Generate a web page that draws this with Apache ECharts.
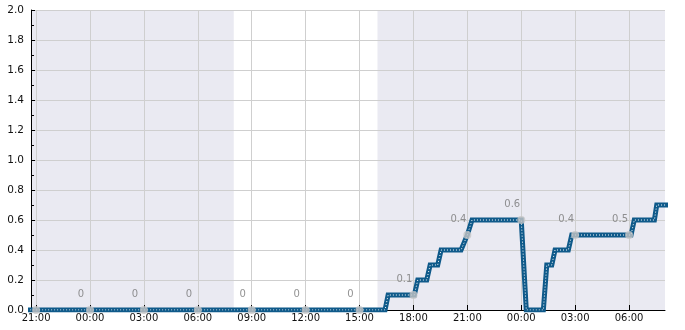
<!DOCTYPE html>
<html><head><meta charset="utf-8">
<script src="https://cdn.jsdelivr.net/npm/echarts@6/dist/echarts.min.js"></script>
<style>html,body{margin:0;padding:0;background:#fff}#c{width:685px;height:330px}</style>
</head><body><div id="c"></div>
<script>
// Hours counted from day-1 00:00
const lineHours  = [20.5, 40.42, 40.59, 42.05, 42.24, 42.74, 42.93, 43.35, 43.54, 44.65, 45.0, 45.26, 48.0, 48.28, 49.23, 49.42, 49.70, 49.88, 50.62, 50.81, 54.11, 54.29, 55.41, 55.54, 56.2];
const lineValues = [0,     0,     0.1,   0.1,   0.2,   0.2,   0.3,   0.3,   0.4,   0.4,   0.5,  0.6,   0.6,  0,     0,     0.3,   0.3,   0.4,   0.4,   0.5,   0.5,   0.6,   0.6,   0.7,   0.7];
const pointHours  = [21, 24, 27, 30, 33, 36, 39, 42, 45, 48, 51, 54];
const pointValues = [0, 0, 0, 0, 0, 0, 0, 0.1, 0.5, 0.6, 0.5, 0.5];
const pointLabels = ['', '0', '0', '0', '0', '0', '0', '0.1', '0.4', '0.6', '0.4', '0.5'];
const xTickHours = [21, 24, 27, 30, 33, 36, 39, 42, 45, 48, 51, 54];
const shadedRanges = [[20.7167, 32], [40, 56]];
const xMin = 20.7167, xMax = 56;

const lineData = lineHours.map((h, i) => [h, lineValues[i]]);
const pointData = pointHours.map((h, i) => [h, pointValues[i]]);
const fmtHour = h => String(Math.round(h) % 24).padStart(2, '0') + ':00';

const chart = echarts.init(document.getElementById('c'));
chart.setOption({
  animation: false,
  grid: {left: 31, right: 20, top: 10, bottom: 20},
  xAxis: {
    type: 'value', min: xMin, max: xMax, zlevel: 1, z: 1,
    axisLine: {show: true, onZero: false, lineStyle: {color: '#000', width: 1}},
    axisTick: {show: true, inside: true, length: 5, customValues: xTickHours, lineStyle: {color: '#000'}},
    axisLabel: {customValues: xTickHours, formatter: fmtHour, color: '#111', fontSize: 10, fontFamily: 'DejaVu Sans', margin: 3},
    splitLine: {show: true, lineStyle: {color: '#cfcfcf', width: 1}},
    minorTick: {show: false}
  },
  yAxis: {
    type: 'value', min: 0, max: 2, interval: 0.2, zlevel: 1, z: 1,
    axisLine: {show: true, lineStyle: {color: '#000', width: 1}},
    axisTick: {show: true, inside: true, length: 4, lineStyle: {color: '#000'}},
    minorTick: {show: true, splitNumber: 2, length: 3, lineStyle: {color: '#000'}},
    axisLabel: {formatter: v => v.toFixed(1), color: '#111', fontSize: 10.5, fontFamily: 'DejaVu Sans', margin: 7},
    splitLine: {show: true, lineStyle: {color: '#cfcfcf', width: 1}}
  },
  series: [
    {
      type: 'line', data: [], zlevel: 0, z: 0, silent: true,
      markArea: {silent: true, itemStyle: {color: '#eaeaf2'},
        data: shadedRanges.map(r => [{xAxis: r[0]}, {xAxis: r[1]}])}
    },
    {
      type: 'scatter', zlevel: 1, z: 2, symbolSize: 0, data: pointData,
      label: {show: true, formatter: p => pointLabels[p.dataIndex], position: 'inside', offset: [-9, -16],
        color: '#777', fontSize: 10, fontFamily: 'DejaVu Sans'}
    },
    {
      type: 'line', zlevel: 1, z: 3, data: lineData, showSymbol: false, clip: true,
      lineStyle: {color: '#0f5a8a', width: 5, join: 'miter'}
    },
    {
      type: 'line', zlevel: 1, z: 4, data: lineData, showSymbol: false, clip: true,
      lineStyle: {color: '#ffffff', width: 1, type: [1, 2]}
    },
    {
      type: 'scatter', zlevel: 1, z: 5, symbolSize: 8, data: pointData, clip: false,
      itemStyle: {color: '#c6c6c6'}
    }
  ]
});
</script></body></html>
